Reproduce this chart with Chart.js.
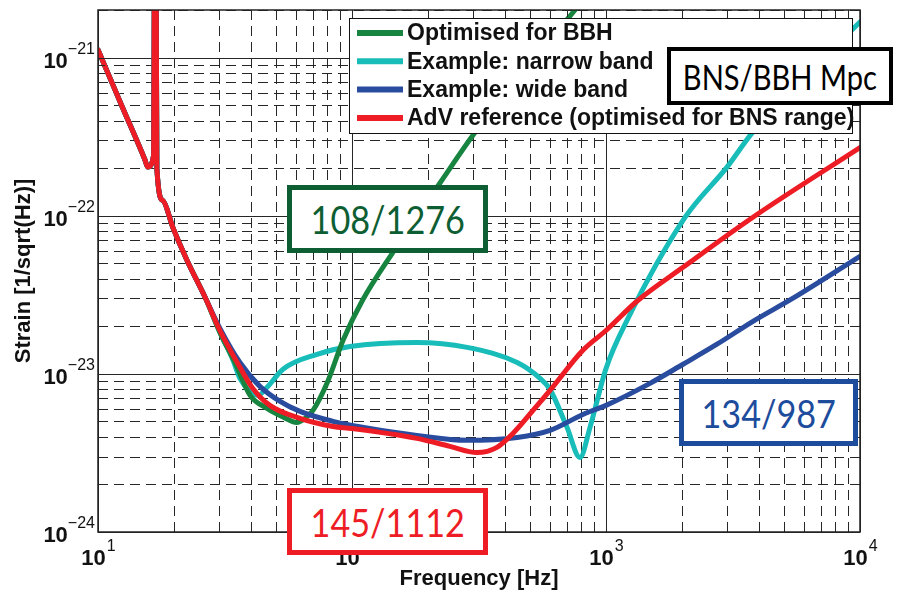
<!DOCTYPE html>
<html lang="en">
<head>
<meta charset="UTF-8">
<title>AdV sensitivity curves</title>
<script src="https://cdn.jsdelivr.net/npm/chart.js"></script>
<style>
    body { margin: 0; background: #fff; }
    #wrap { position: relative; width: 898px; height: 592px; overflow: hidden; }
    #wrap canvas { position: absolute; left: 0; top: 0; }
    .tag {
        position: absolute;
        box-sizing: border-box;
        background: #fff;
        border: 5px solid currentColor;
        font-family: Lato, 'Open Sans', sans-serif;
        font-size: 38px;
        line-height: 1;
        white-space: nowrap;
        display: flex;
        align-items: center;
        justify-content: center;
    }
    .tag span { display: inline-block; transform: scaleX(0.9); }
</style>
</head>
<body>
<div id="wrap">
    <canvas id="asd" width="898" height="592"></canvas>
    <div class="tag" style="left:667px;top:47px;width:226px;height:58px;color:#000;border-width:4px;font-size:35px;"><span style="transform:scaleX(0.83)">BNS/BBH Mpc</span></div>
    <div class="tag" style="left:287px;top:185px;width:201px;height:68px;color:#0e5e33;"><span>108/1276</span></div>
    <div class="tag" style="left:679px;top:379px;width:179px;height:67px;color:#1d4c9d;"><span>134/987</span></div>
    <div class="tag" style="left:287px;top:488px;width:201px;height:67px;color:#ee1d25;"><span>145/1112</span></div>
</div>
<script>
// shared low-frequency part (suspension wall + 16 Hz resonance)
const lowFreq   = [10, 12.5, 15.3, 15.7, 16.55, 16.8, 17.05, 18.0, 19.7, 22.4, 26.4];
const lowStrain = [1.12e-21, 4.82e-22, 2.26e-22, 2.03e-22, 2.4e-22, 1e-19, 2.0e-22, 1.25e-22, 8.45e-23, 5.23e-23, 3.05e-23];

// AdV reference (BNS)
const redFreq   = [30.2, 36.2, 40.7, 47.5, 62.4, 84.2, 100, 180, 243, 310, 372, 430, 516, 602, 811, 1000, 1337, 2010, 3790, 10000];
const redStrain = [1.88e-23, 1.10e-23, 8.09e-24, 6.32e-24, 5.23e-24, 4.65e-24, 4.52e-24, 3.91e-24, 3.48e-24, 3.18e-24,
                   3.43e-24, 4.20e-24, 5.87e-24, 7.86e-24, 1.41e-23, 1.88e-23, 2.92e-23, 4.72e-23, 9.79e-23, 2.7e-22];

// wide band
const blueFreq   = [30.2, 36.2, 43.4, 52.1, 62.4, 84.2, 100, 180, 284, 447, 602, 811, 1000, 1490, 2010, 2735, 3790, 5450, 10000];
const blueStrain = [1.94e-23, 1.18e-23, 8.34e-24, 6.70e-24, 5.79e-24, 5.01e-24, 4.72e-24, 4.08e-24, 3.80e-24, 3.96e-24,
                    4.39e-24, 5.54e-24, 6.32e-24, 8.71e-24, 1.15e-23, 1.54e-23, 2.15e-23, 3.01e-23, 5.54e-23];

// narrow band
const cyanFreq   = [30.2, 34.0, 36.2, 39.7, 42.7, 46.3, 53.5, 72.8, 98.2, 180, 284, 447, 550, 602, 702, 790, 865,
                    1000, 1210, 2050, 2995, 3755, 6070, 10000];
const cyanStrain = [1.83e-23, 1.22e-23, 9.37e-24, 7.75e-24, 7.31e-24, 8.22e-24, 1.07e-23, 1.33e-23, 1.49e-23, 1.58e-23,
                    1.47e-23, 1.18e-23, 9.37e-24, 7.98e-24, 4.59e-24, 2.96e-24, 4.59e-24,
                    1.08e-23, 2.18e-23, 9.79e-23, 2.03e-22, 3.33e-22, 7.64e-22, 1.68e-21];

// optimised for BBH
const greenFreq   = [30.2, 34.6, 39.7, 46.3, 53.0, 60.7, 65.3, 70.2, 79.7, 92.2, 110, 144, 222, 310, 755, 946];
const greenStrain = [1.83e-23, 1.18e-23, 7.31e-24, 6.05e-24, 5.38e-24, 4.93e-24, 5.23e-24, 5.87e-24, 8.71e-24,
                     1.63e-23, 2.92e-23, 5.79e-23, 1.61e-22, 3.48e-22, 2.0e-21, 3.1e-21];

const seriesLabels = ['AdV reference (optimised for BNS range)', 'Example: wide band', 'Optimised for BBH', 'Example: narrow band'];
const seriesColors = ['#ee1d25', '#2a4c9f', '#17843f', '#18bdb9'];
const legendOrder = [2, 3, 1, 0];

const xDecades = [10, 100, 1000, 10000];
const yDecades = [1e-24, 1e-23, 1e-22, 1e-21];
const minorSteps = [1, 2, 3, 4, 5, 6, 7, 8, 9];
const xTickExp = ['1', '2', '3', '4'];
const yTickExp = ['\u221224', '\u221223', '\u221222', '\u221221'];
const yMax = 2e-21;

function toPoints(fs, ss) {
    const f = lowFreq.concat(fs), s = lowStrain.concat(ss);
    return f.map((v, i) => ({ x: v, y: s[i] }));
}

const isDecade = v => Math.abs(Math.log10(v) - Math.round(Math.log10(v))) < 1e-6;
const px = v => Math.round(v) + 0.5;

const frame = {
    id: 'frame',
    beforeDatasetsDraw(chart) {
        const { ctx, chartArea: a, scales: { x, y } } = chart;
        ctx.save();
        ctx.strokeStyle = '#262626';
        ctx.lineWidth = 1;
        x.ticks.forEach(t => {
            const p = px(x.getPixelForValue(t.value));
            ctx.setLineDash(isDecade(t.value) ? [] : [10, 6]);
            ctx.beginPath(); ctx.moveTo(p, a.bottom); ctx.lineTo(p, a.top); ctx.stroke();
        });
        y.ticks.forEach(t => {
            const p = px(y.getPixelForValue(t.value));
            ctx.setLineDash(isDecade(t.value) ? [] : [10, 6]);
            ctx.beginPath(); ctx.moveTo(a.left, p); ctx.lineTo(a.right, p); ctx.stroke();
        });
        ctx.restore();
    },
    afterDatasetsDraw(chart) {
        const { ctx, chartArea: a, scales: { x, y } } = chart;
        ctx.save();
        // inward ticks on every side
        ctx.strokeStyle = '#262626';
        ctx.lineWidth = 1;
        x.ticks.forEach(t => {
            const p = px(x.getPixelForValue(t.value));
            ctx.beginPath();
            ctx.moveTo(p, a.bottom); ctx.lineTo(p, a.bottom - 7);
            ctx.moveTo(p, a.top); ctx.lineTo(p, a.top + 7);
            ctx.stroke();
        });
        y.ticks.forEach(t => {
            const p = px(y.getPixelForValue(t.value));
            ctx.beginPath();
            ctx.moveTo(a.left, p); ctx.lineTo(a.left + 7, p);
            ctx.moveTo(a.right, p); ctx.lineTo(a.right - 7, p);
            ctx.stroke();
        });
        // axes box
        ctx.lineWidth = 1.5;
        ctx.strokeStyle = '#222';
        ctx.strokeRect(a.left, a.top, a.right - a.left, a.bottom - a.top);

        // legend
        const lx = 349.5, ly = 18.5, lw = 503, lh = 115;
        ctx.fillStyle = '#fff';
        ctx.fillRect(lx, ly, lw, lh);
        ctx.lineWidth = 1;
        ctx.strokeStyle = '#111';
        ctx.strokeRect(lx, ly, lw, lh);
        ctx.font = 'bold 23px "Liberation Sans", Arial, sans-serif';
        ctx.textBaseline = 'middle';
        ctx.textAlign = 'left';
        legendOrder.forEach((di, row) => {
            const ds = chart.data.datasets[di];
            const cy = 33 + row * 28.3;
            ctx.strokeStyle = ds.borderColor;
            ctx.lineWidth = 6;
            ctx.beginPath(); ctx.moveTo(357, cy); ctx.lineTo(403, cy); ctx.stroke();
            ctx.fillStyle = '#111';
            ctx.fillText(ds.label, 407, cy + 1);
        });

        // tick labels: 10 with superscript exponent
        const baseFont = 'bold 22px "Liberation Sans", Arial, sans-serif';
        const expFont = '16px "Liberation Sans", Arial, sans-serif';
        ctx.fillStyle = '#111';
        ctx.textBaseline = 'alphabetic';
        ctx.textAlign = 'left';
        xDecades.forEach((d, i) => {
            const p = x.getPixelForValue(d);
            ctx.font = baseFont; const bw = ctx.measureText('10').width;
            ctx.font = expFont; const ew = ctx.measureText(xTickExp[i]).width;
            const left = p - (bw + ew) / 2;
            ctx.font = baseFont; ctx.fillText('10', left, 565);
            ctx.font = expFont; ctx.fillText(xTickExp[i], left + bw + 1, 551);
        });
        yDecades.forEach((d, i) => {
            const p = y.getPixelForValue(d);
            ctx.font = expFont; const ew = ctx.measureText(yTickExp[i]).width;
            ctx.font = baseFont; const bw = ctx.measureText('10').width;
            const right = 95;
            ctx.font = baseFont; ctx.fillText('10', right - ew - bw, p + 10);
            ctx.font = expFont; ctx.fillText(yTickExp[i], right - ew, p - 4);
        });
        ctx.restore();
    }
};

function decadeTicks(decades, max) {
    const vals = [];
    decades.forEach(d => minorSteps.forEach(m => { const v = d * m; if (v <= max * 1.0001) vals.push({ value: v }); }));
    return vals;
}

const chart = new Chart(document.getElementById('asd'), {
    type: 'line',
    data: {
        datasets: [
            { label: seriesLabels[0], data: toPoints(redFreq, redStrain), borderColor: seriesColors[0] },
            { label: seriesLabels[1], data: toPoints(blueFreq, blueStrain), borderColor: seriesColors[1] },
            { label: seriesLabels[2], data: toPoints(greenFreq, greenStrain), borderColor: seriesColors[2] },
            { label: seriesLabels[3], data: toPoints(cyanFreq, cyanStrain), borderColor: seriesColors[3] }
        ]
    },
    options: {
        responsive: false,
        animation: false,
        layout: { padding: { top: 10, right: 38, left: 0, bottom: 0 } },
        elements: {
            line: { borderWidth: 5, tension: 0.4, cubicInterpolationMode: 'monotone', borderCapStyle: 'round', borderJoinStyle: 'round' },
            point: { radius: 0 }
        },
        plugins: { legend: { display: false }, tooltip: { enabled: false } },
        scales: {
            x: {
                type: 'logarithmic',
                min: 10, max: 10000,
                grid: { display: false },
                border: { display: false },
                ticks: { display: false },
                afterBuildTicks: s => { s.ticks = decadeTicks(xDecades.slice(0, 3), 10000).concat([{ value: 10000 }]); },
                afterFit: s => { s.height = 60; },
                title: {
                    display: true, text: 'Frequency [Hz]', color: '#111',
                    font: { family: '"Liberation Sans", Arial, sans-serif', size: 22, weight: 'bold' },
                    padding: { top: 0, bottom: 0 }
                }
            },
            y: {
                type: 'logarithmic',
                min: 1e-24, max: yMax,
                grid: { display: false },
                border: { display: false },
                ticks: { display: false },
                afterBuildTicks: s => { s.ticks = decadeTicks(yDecades, yMax); },
                afterFit: s => { s.width = 98; },
                title: {
                    display: true, text: 'Strain [1/sqrt(Hz)]', color: '#111',
                    font: { family: '"Liberation Sans", Arial, sans-serif', size: 22, weight: 'bold' },
                    padding: { top: 11, bottom: 0 }
                }
            }
        }
    },
    plugins: [frame]
});
</script>
</body>
</html>
